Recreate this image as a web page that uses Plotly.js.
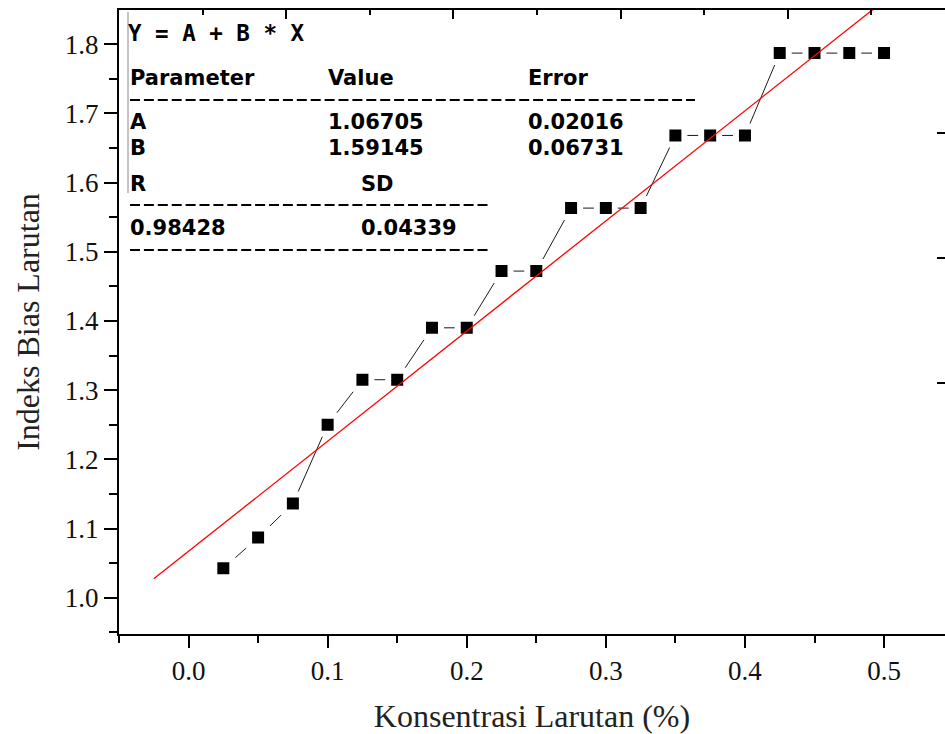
<!DOCTYPE html>
<html>
<head>
<meta charset="utf-8">
<script src="https://cdn.plot.ly/plotly-3.0.1.min.js"></script>
<style>
  html, body { margin: 0; padding: 0; background: #ffffff; overflow: hidden; }
  #chart { width: 945px; height: 734px; }
</style>
</head>
<body>
<div id="chart"></div>
<script>
// ---- data ----
const konsentrasi = [0.025, 0.05, 0.075, 0.1, 0.125, 0.15, 0.175, 0.2, 0.225, 0.25,
                     0.275, 0.3, 0.325, 0.35, 0.375, 0.4, 0.425, 0.45, 0.475, 0.5];
const indeksBias  = [1.0425, 1.087, 1.136, 1.250, 1.315, 1.315, 1.390, 1.390, 1.472, 1.472,
                     1.563, 1.563, 1.563, 1.668, 1.668, 1.668, 1.787, 1.787, 1.787, 1.787];

// linear fit parameters printed in the chart
const fitA = 1.06705;
const fitB = 1.59145;
const fitR = 0.98428;
const fitSD = 0.04339;
const fitErrA = 0.02016;
const fitErrB = 0.06731;
const fitRangeX = [-0.025, 0.525];

// labels
const xTitle = 'Konsentrasi Larutan (%)';
const yTitle = 'Indeks Bias Larutan';

// ---- layout geometry (pixels) ----
const W = 945, H = 734;
const L = 119, R = 945, T = 10, B = 634;
const px = v => (v - L) / (R - L);
const py = v => (B - v) / (B - T);

const fitY = fitRangeX.map(x => fitA + fitB * x);

const traces = [
  {
    x: konsentrasi, y: indeksBias,
    type: 'scatter', mode: 'lines+markers',
    line: { color: '#1a1a1a', width: 1 },
    marker: { symbol: 'square', size: 18, color: '#000000',
              line: { color: '#ffffff', width: 6 } },
    hoverinfo: 'skip', showlegend: false, cliponaxis: false
  },
  {
    x: fitRangeX, y: fitY,
    type: 'scatter', mode: 'lines',
    line: { color: '#ff0000', width: 1.3 },
    hoverinfo: 'skip', showlegend: false
  },
  { x: [], y: [], xaxis: 'x2', type: 'scatter', mode: 'markers', showlegend: false, hoverinfo: 'skip' }
];

const monoFont = { family: 'DejaVu Sans Mono', size: 22.5, color: '#000000', weight: 'bold' };
const boxFont  = { family: 'DejaVu Sans', size: 21, color: '#000000', weight: 'bold' };
function txt(text, x, y, f) {
  return { text: text, xref: 'paper', yref: 'paper', x: px(x), y: py(y),
           xanchor: 'left', yanchor: 'middle', showarrow: false, font: f || boxFont };
}

const annotations = [
  txt('Y = A + B * X', 126, 33, monoFont),
  txt('Parameter', 128, 78),
  txt('Value', 326, 78),
  txt('Error', 526, 78),
  txt('A', 128, 122),
  txt(fitA.toFixed(5), 326, 122),
  txt(fitErrA.toFixed(5), 526, 122),
  txt('B', 128, 147.5),
  txt(fitB.toFixed(5), 326, 147.5),
  txt(fitErrB.toFixed(5), 526, 147.5),
  txt('R', 128, 184),
  txt('SD', 359, 184),
  txt(fitR.toFixed(5), 128, 228),
  txt(fitSD.toFixed(5), 359, 228)
];

function dashLine(x0, x1, y) {
  return { type: 'line', xref: 'paper', yref: 'paper',
           x0: px(x0), x1: px(x1), y0: py(y), y1: py(y),
           line: { color: '#000000', width: 2, dash: '10px,3.9px' } };
}
function tick(y) {
  return { type: 'line', xref: 'paper', yref: 'paper',
           x0: px(937), x1: px(945), y0: py(y), y1: py(y),
           line: { color: '#000000', width: 2 } };
}

const shapes = [
  dashLine(130, 695, 100),
  dashLine(130, 490, 205),
  dashLine(130, 490, 250),
  { type: 'line', xref: 'paper', yref: 'paper', x0: px(128), x1: px(128), y0: py(12), y1: py(193),
    line: { color: '#b0b0b0', width: 1.5 } },
  tick(133), tick(258), tick(383)
];

const serif = 'Liberation Serif, Times New Roman, serif';

const layout = {
  width: W, height: H,
  margin: { l: L, r: W - R, t: T, b: H - B, pad: 0 },
  paper_bgcolor: '#ffffff', plot_bgcolor: '#ffffff',
  showlegend: false,
  xaxis: {
    range: [-0.05, -0.05 + (R - L) / 1391],
    tick0: 0, dtick: 0.1, tickformat: '.1f',
    ticks: 'outside', ticklen: 12, tickwidth: 2, tickcolor: '#000000',
    minor: { dtick: 0.05, tick0: 0, ticks: 'outside', ticklen: 7, tickwidth: 2, tickcolor: '#000000' },
    showline: true, linecolor: '#000000', linewidth: 2,
    showgrid: false, zeroline: false,
    tickfont: { family: serif, size: 27, color: '#111111' },
    title: { text: xTitle, font: { family: serif, size: 32, color: '#222222' }, standoff: 22 },
    automargin: false
  },
  xaxis2: {
    overlaying: 'x', side: 'top', anchor: 'y',
    range: [0, (R - L) / 83.6],
    tick0: 0, dtick: 2,
    ticks: 'inside', ticklen: 9, tickwidth: 2, tickcolor: '#000000',
    minor: { dtick: 1, tick0: 0, ticks: 'inside', ticklen: 5, tickwidth: 2, tickcolor: '#000000' },
    showticklabels: false,
    showline: true, linecolor: '#000000', linewidth: 2,
    showgrid: false, zeroline: false
  },
  yaxis: {
    range: [1.0 - (B - 597.7) / 692, 1.0 + (597.7 - T) / 692],
    tick0: 1.0, dtick: 0.1, tickformat: '.1f',
    ticks: 'outside', ticklen: 13, tickwidth: 2, tickcolor: '#000000',
    minor: { dtick: 0.05, tick0: 1.0, ticks: 'outside', ticklen: 8, tickwidth: 2, tickcolor: '#000000' },
    showline: true, linecolor: '#000000', linewidth: 2,
    showgrid: false, zeroline: false,
    tickfont: { family: serif, size: 27, color: '#111111' },
    title: { text: yTitle, font: { family: serif, size: 32, color: '#222222' }, standoff: 16 },
    automargin: false
  },
  annotations: annotations,
  shapes: shapes
};

Plotly.newPlot('chart', traces, layout, { displayModeBar: false, staticPlot: true });
</script>
</body>
</html>
